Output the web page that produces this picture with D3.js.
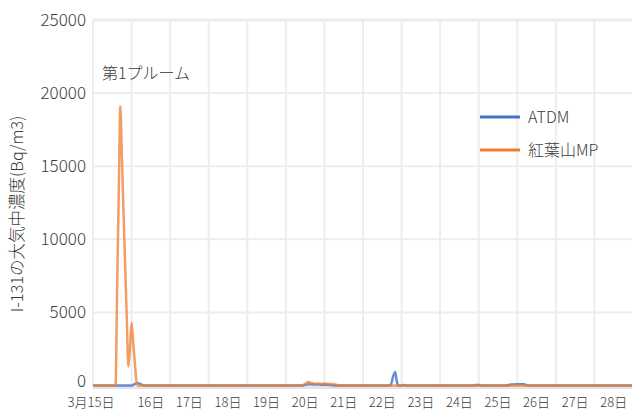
<!DOCTYPE html>
<html><head><meta charset="utf-8">
<script src="https://cdn.jsdelivr.net/npm/d3@7"></script>
<style>
body{margin:0;background:#fff;}
text{font-family:"Noto Sans CJK JP","Noto Sans",sans-serif;font-weight:300;fill:#3c3c3c;}
</style></head><body>
<svg id="c" width="632" height="410"></svg>
<script>
// ---- data (hours counted from 3/15 00:00) ----
const dayLabels = ["3月15日","16日","17日","18日","19日","20日","21日","22日","23日","24日","25日","26日","27日","28日"];
const yTicks = [0,5000,10000,15000,20000,25000];
const seriesNames = ["ATDM","紅葉山MP"];
const seriesColors = ["#4472C4","#ED7D31"];
const plumeLabel = "第1プルーム";
const yTitle = "I-131の大気中濃度(Bq/m3)";

const mpHours  = [0,14,15,16,17,18,19,20,21,22,23,24,25,26,27,28,130,132,134,136,138,140,142,144,146,148,150,152,154,336];
const mpValues = [0,0,6500,13000,19100,15500,11800,8200,4700,1300,2600,4300,2900,1600,300,0,0,120,240,170,120,130,110,130,120,110,90,30,0,0];

const atdmHours  = [0,24,26,28,30,32,130,134,140,146,150,185,187,188,189,190,192,193,195,236,238,240,242,257,260,264,268,271,336];
const atdmValues = [0,0,100,150,80,0,0,80,60,50,0,0,700,920,300,0,0,30,0,0,40,30,0,0,70,90,80,0,0];

// ---- chart ----
const svg = d3.select("#c");
const x = d3.scaleLinear().domain([0, 14*24]).range([93, 633]);
const y = d3.scaleLinear().domain([0, 25000]).range([385.5, 20]);

// horizontal gridlines
svg.append("g").selectAll("line").data(yTicks.filter(d=>d>0)).join("line")
  .attr("x1", 93).attr("x2", 632).attr("y1", d=>y(d)).attr("y2", d=>y(d))
  .attr("stroke", "#ededed").attr("stroke-width", d=>d===25000?3:2);
// vertical gridlines (day boundaries)
svg.append("g").selectAll("line").data(d3.range(0, 15)).join("line")
  .attr("x1", d=>x(d*24)).attr("x2", d=>x(d*24)).attr("y1", 20).attr("y2", 386)
  .attr("stroke", "#ededed").attr("stroke-width", 2);
// bottom axis band
svg.append("line").attr("x1", 93).attr("x2", 632).attr("y1", 387.5).attr("y2", 387.5)
  .attr("stroke", "#e4e4e4").attr("stroke-width", 3);

// y tick labels
svg.append("g").selectAll("text").data(yTicks).join("text")
  .attr("x", 86).attr("y", d=>y(d)).attr("dy", d=>d===0?"0.1em":"0.35em")
  .attr("text-anchor", "end").attr("font-size", 17).text(d=>d);

// x labels at day middles
svg.append("g").selectAll("text").data(dayLabels).join("text")
  .attr("x", (d,i)=> i===0 ? x(0)-2 : x(i*24+12))
  .attr("y", 402).attr("dy", "0.35em")
  .attr("text-anchor", "middle").attr("font-size", 13).text(d=>d);

// y title
svg.append("text").attr("transform", "translate(17,214) rotate(-90)")
  .attr("text-anchor", "middle").attr("dy", "0.35em").attr("font-size", 16.5).text(yTitle);

// lines
const line = d3.line().x(d=>x(d[0])).y(d=>y(d[1])).curve(d3.curveMonotoneX);
const atdm = atdmHours.map((h,i)=>[h, atdmValues[i]]);
const mp = mpHours.map((h,i)=>[h, mpValues[i]]);
svg.append("path").datum(atdm).attr("d", line).attr("fill","none")
  .attr("stroke", seriesColors[0]).attr("stroke-width", 2.5).attr("stroke-opacity", 0.8);
svg.append("path").datum(mp).attr("d", line).attr("fill","none")
  .attr("stroke", seriesColors[1]).attr("stroke-width", 2.5).attr("stroke-opacity", 0.75);

// plume label
svg.append("text").attr("x", 102).attr("y", 73).attr("dy","0.35em").attr("font-size", 16).text(plumeLabel);

// legend
const lg = svg.append("g").selectAll("g").data(seriesNames).join("g")
  .attr("transform", (d,i)=>`translate(480,${117+i*33})`);
lg.append("line").attr("x1",0).attr("x2",40).attr("stroke",(d,i)=>seriesColors[i]).attr("stroke-width",3);
lg.append("text").attr("x",48).attr("dy","0.35em").attr("font-size",16).text(d=>d);
</script></body></html>
